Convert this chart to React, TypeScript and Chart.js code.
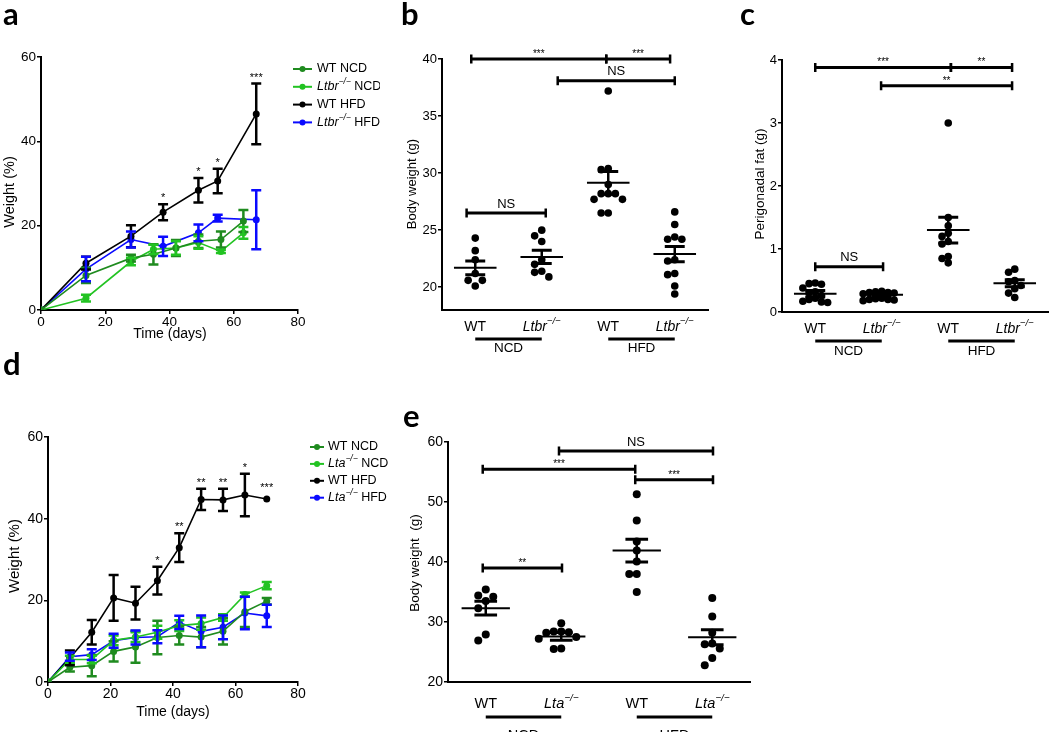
import React, { useEffect, useRef } from 'react';
import { Chart, registerables } from 'chart.js';

Chart.register(...registerables);

const SANS = '"Liberation Sans", Arial, Helvetica, sans-serif';
const LETTER_FONT = 'Lato, "Open Sans", sans-serif';

const DARK_GREEN = '#1f8b1f';
const LIGHT_GREEN = '#22c322';
const BLACK = '#000000';
const BLUE = '#0a0aff';

// ---------------- Panel a (Ltbr, weight gain over time) ----------------
const xTicksA = [0, 20, 40, 60, 80];
const yTicksA = [0, 20, 40, 60];
const daysNcdA = [0, 14, 28, 35, 42, 49, 56, 63];
const daysHfdA = [0, 14, 28, 38, 49, 55, 67];
const wtNcdA = [0, 8.2, 12.3, 13.2, 14.7, 16.3, 16.7, 21.1];
const wtNcdAErr = [0, 1.8, 0.8, 2.4, 1.9, 1.6, 1.9, 2.6];
const ltbrNcdA = [0, 2.8, 11.5, 14.4, 14.7, 16.0, 13.9, 18.3];
const ltbrNcdAErr = [0, 0.8, 0.9, 1.1, 1.6, 1.5, 0.4, 1.4];
const wtHfdA = [0, 11.1, 17.5, 23.2, 28.4, 30.6, 46.5];
const wtHfdAErr = [0, 1.5, 2.6, 1.9, 2.9, 2.9, 7.2];
const ltbrHfdA = [0, 9.7, 16.7, 15.1, 18.3, 21.8, 21.4];
const ltbrHfdAErr = [0, 2.9, 1.9, 2.3, 2.0, 0.8, 7.0];
const starDaysA = [38, 49, 55, 67];
const starTextA = ['*', '*', '*', '***'];

// ---------------- Panel b (Ltbr body weight) ----------------
const yTicksB = [20, 25, 30, 35, 40];
const yMinB = 18;
const wtNcdB = [24.3, 23.2, 22.4, 21.2, 20.6, 20.6, 20.1];
const ltbrNcdB = [25.0, 24.5, 24.0, 22.4, 22.0, 21.4, 21.3, 20.9];
const wtHfdB = [37.2, 30.4, 30.3, 29.0, 28.2, 28.2, 28.2, 27.7, 27.7, 26.5, 26.5];
const ltbrHfdB = [26.6, 25.5, 24.4, 24.2, 24.2, 22.4, 22.3, 21.2, 21.1, 20.1, 19.4];
const meansB = [21.7, 22.65, 29.15, 22.9];
const semsB = [0.6, 0.58, 1.0, 0.66];
const bracketFromB = [0.94, 2.97, 2.24, 0.87];
const bracketToB = [2.97, 3.93, 4.0, 2.06];
const bracketAtB = [40, 40, 38.1, 26.5];
const bracketTextB = ['***', '***', 'NS', 'NS'];

// ---------------- Panel c (Ltbr perigonadal fat) ----------------
const yTicksC = [0, 1, 2, 3, 4];
const wtNcdC = [0.46, 0.45, 0.44, 0.38, 0.32, 0.3, 0.26, 0.22, 0.2, 0.17, 0.16, 0.15];
const ltbrNcdC = [0.33, 0.32, 0.31, 0.31, 0.3, 0.29, 0.22, 0.21, 0.2, 0.2, 0.19, 0.18];
const wtHfdC = [3.0, 1.5, 1.37, 1.25, 1.2, 1.12, 1.08, 0.88, 0.85, 0.78];
const ltbrHfdC = [0.68, 0.63, 0.5, 0.48, 0.42, 0.37, 0.3, 0.23];
const meansC = [0.29, 0.275, 1.3, 0.455];
const semsC = [0.05, 0.02, 0.205, 0.055];
const bracketFromC = [1.0, 3.04, 1.99, 1.0];
const bracketToC = [3.04, 3.96, 3.96, 2.02];
const bracketAtC = [3.88, 3.88, 3.59, 0.72];
const bracketTextC = ['***', '**', '**', 'NS'];

// ---------------- Panel d (Lta, weight gain over time) ----------------
const xTicksD = [0, 20, 40, 60, 80];
const yTicksD = [0, 20, 40, 60];
const daysD = [0, 7, 14, 21, 28, 35, 42, 49, 56, 63, 70];
const wtNcdD = [0, 3.6, 4.0, 7.5, 8.6, 10.9, 11.4, 11.0, 12.4, 17.2, 19.8];
const wtNcdDErr = [0, 1.0, 2.6, 2.5, 3.9, 4.1, 2.2, 2.5, 3.2, 3.7, 0.8];
const ltaNcdD = [0, 5.5, 5.5, 10.2, 11.0, 12.2, 13.8, 14.3, 15.8, 21.4, 23.6];
const ltaNcdDErr = [0, 0.9, 0.9, 1.2, 1.2, 1.6, 1.3, 1.5, 0.8, 0.5, 0.9];
const wtHfdD = [0, 5.9, 12.2, 20.6, 19.3, 24.8, 32.9, 44.7, 44.6, 45.8, 44.8];
const wtHfdDErr = [0, 1.8, 3.0, 5.6, 4.0, 3.4, 3.5, 2.6, 2.7, 5.2, 0];
const ltaHfdD = [0, 6.2, 6.7, 10.1, 10.9, 11.1, 14.6, 12.4, 13.4, 16.9, 16.2];
const ltaHfdDErr = [0, 1.0, 1.3, 1.7, 1.7, 1.6, 1.6, 3.9, 2.9, 4.0, 2.7];
const starDaysD = [35, 42, 49, 56, 63, 70];
const starTextD = ['*', '**', '**', '**', '*', '***'];

// ---------------- Panel e (Lta body weight) ----------------
const yTicksE = [20, 30, 40, 50, 60];
const wtNcdE = [35.4, 34.4, 34.2, 33.5, 32.3, 27.9, 26.9];
const ltaNcdE = [29.8, 28.4, 28.4, 28.3, 28.2, 27.5, 27.2, 25.6, 25.5];
const wtHfdE = [51.3, 46.9, 43.4, 41.9, 40.1, 38.0, 38.0, 35.0];
const ltaHfdE = [34.0, 30.9, 28.2, 26.4, 26.3, 25.6, 24.0, 22.8];
const meansE = [32.3, 27.6, 41.9, 27.45];
const semsE = [1.15, 0.65, 1.9, 1.25];
const bracketFromE = [1.97, 0.96, 2.98, 0.96];
const bracketToE = [4.01, 2.98, 4.01, 2.01];
const bracketAtE = [58.5, 55.45, 53.7, 39.0];
const bracketTextE = ['NS', '***', '***', '**'];

const dietNames = ['NCD', 'HFD'];

// ---------------- helpers ----------------
type Part = { t: string; i?: boolean; sup?: boolean };
type Rect = { left: number; top: number; width: number; height: number };
type Area = { l: number; t: number; r: number; b: number };
type TextSpec = { text: string; x: number; y: number; size: number };

const wt = (suffix = ''): Part[] => [{ t: 'WT' + suffix }];
const ko = (gene: string, suffix = ''): Part[] => {
  const p: Part[] = [{ t: gene, i: true }, { t: '−/−', i: true, sup: true }];
  if (suffix) p.push({ t: suffix });
  return p;
};

function partFont(p: Part, size: number) {
  return `${p.i ? 'italic ' : ''}${p.sup ? size * 0.68 : size}px ${SANS}`;
}

function drawRich(ctx: CanvasRenderingContext2D, parts: Part[], x: number, y: number, size: number, align: 'left' | 'center') {
  let total = 0;
  const widths = parts.map((p) => {
    ctx.font = partFont(p, size);
    const w = ctx.measureText(p.t).width;
    total += w;
    return w;
  });
  let cx = align === 'center' ? x - total / 2 : x;
  ctx.fillStyle = '#000';
  ctx.textAlign = 'left';
  ctx.textBaseline = 'middle';
  parts.forEach((p, k) => {
    ctx.font = partFont(p, size);
    ctx.fillText(p.t, cx, p.sup ? y - size * 0.4 : y);
    cx += widths[k];
  });
}

function drawRotated(ctx: CanvasRenderingContext2D, t: TextSpec, ox: number, oy: number) {
  ctx.save();
  ctx.translate(t.x - ox, t.y - oy);
  ctx.rotate(-Math.PI / 2);
  ctx.font = `${t.size}px ${SANS}`;
  ctx.fillStyle = '#000';
  ctx.textAlign = 'center';
  ctx.textBaseline = 'middle';
  ctx.fillText(t.text, 0, 0);
  ctx.restore();
}

function drawLetter(ctx: CanvasRenderingContext2D, letter: string, pos: [number, number], ox: number, oy: number) {
  ctx.save();
  ctx.font = `bold 31px ${LETTER_FONT}`;
  ctx.fillStyle = '#000';
  ctx.textAlign = 'left';
  ctx.textBaseline = 'alphabetic';
  ctx.fillText(letter, pos[0] - ox, pos[1] - oy);
  ctx.restore();
}

function axisBase(size: number) {
  return {
    ticks: { color: '#000', font: { family: SANS, size }, padding: 1, maxRotation: 0, autoSkip: false },
    grid: { display: true, drawOnChartArea: false, drawTicks: true, tickLength: 4, color: '#000', lineWidth: 1.5 },
    border: { display: true, color: '#000', width: 2 },
  };
}

// beeswarm placement: deterministic horizontal spreading of overlapping dots
function swarm(values: number[], center: number, pxX: number, pxY: number, d: number) {
  const placed: { x: number; y: number }[] = [];
  values.forEach((v) => {
    for (let k = 0; k < 30; k++) {
      const off = k === 0 ? 0 : (k % 2 ? -1 : 1) * Math.ceil(k / 2);
      const x = center + (off * d) / pxX;
      const ok = placed.every((p) => Math.hypot((p.x - x) * pxX, (p.y - v) * pxY) >= d - 0.01);
      if (ok) {
        placed.push({ x, y: v });
        break;
      }
    }
  });
  return placed;
}

// ---------------- line panels ----------------
interface LineSeries { name: Part[]; color: string; x: number[]; y: number[]; err: number[] }
interface LineSpec {
  rect: Rect; area: Area; letter: string; letterPos: [number, number];
  xTicks: number[]; yTicks: number[]; tickSize: number;
  series: LineSeries[]; starSeries: number; starX: number[]; starText: string[];
  legend: { x1: number; x2: number; tx: number; y0: number; gap: number; size: number };
  yTitle: TextSpec; xTitle: TextSpec;
}

function lineConfig(spec: LineSpec): any {
  const { rect, area } = spec;
  const pad = { top: area.t - rect.top, right: rect.left + rect.width - area.r, bottom: 0, left: 0 };
  const yWidth = area.l - rect.left;
  const xHeight = rect.top + rect.height - area.b;
  const ox = rect.left;
  const oy = rect.top;
  const decor = {
    id: 'lineDecor',
    afterDatasetsDraw(chart: any) {
      const ctx = chart.ctx as CanvasRenderingContext2D;
      const xs = chart.scales.x;
      const ys = chart.scales.y;
      ctx.save();
      spec.series.forEach((s) => {
        ctx.strokeStyle = s.color;
        ctx.lineWidth = 2.5;
        s.x.forEach((xv, k) => {
          const e = s.err[k];
          if (!e) return;
          const px = xs.getPixelForValue(xv);
          const top = ys.getPixelForValue(s.y[k] + e);
          const bot = ys.getPixelForValue(s.y[k] - e);
          ctx.beginPath();
          ctx.moveTo(px, top);
          ctx.lineTo(px, bot);
          ctx.moveTo(px - 5, top);
          ctx.lineTo(px + 5, top);
          ctx.moveTo(px - 5, bot);
          ctx.lineTo(px + 5, bot);
          ctx.stroke();
        });
      });
      ctx.restore();
    },
    afterDraw(chart: any) {
      const ctx = chart.ctx as CanvasRenderingContext2D;
      const xs = chart.scales.x;
      const ys = chart.scales.y;
      ctx.save();
      // significance stars
      const ss = spec.series[spec.starSeries];
      ctx.font = `11px ${SANS}`;
      ctx.fillStyle = '#000';
      ctx.textAlign = 'center';
      ctx.textBaseline = 'middle';
      spec.starX.forEach((sx, j) => {
        const k = ss.x.indexOf(sx);
        if (k < 0) return;
        const e = ss.err[k];
        let py = ys.getPixelForValue(ss.y[k] + e) - 6;
        if (!e) py -= 5;
        ctx.fillText(spec.starText[j], xs.getPixelForValue(sx), py);
      });
      // legend
      const L = spec.legend;
      spec.series.forEach((s, k) => {
        const y = L.y0 + k * L.gap - oy;
        ctx.strokeStyle = s.color;
        ctx.lineWidth = 2;
        ctx.beginPath();
        ctx.moveTo(L.x1 - ox, y);
        ctx.lineTo(L.x2 - ox, y);
        ctx.stroke();
        ctx.fillStyle = s.color;
        ctx.beginPath();
        ctx.arc((L.x1 + L.x2) / 2 - ox, y, 3, 0, Math.PI * 2);
        ctx.fill();
        drawRich(ctx, s.name, L.tx - ox, y, L.size, 'left');
      });
      drawRotated(ctx, spec.yTitle, ox, oy);
      ctx.font = `${spec.xTitle.size}px ${SANS}`;
      ctx.fillStyle = '#000';
      ctx.textAlign = 'center';
      ctx.textBaseline = 'middle';
      ctx.fillText(spec.xTitle.text, spec.xTitle.x - ox, spec.xTitle.y - oy);
      drawLetter(ctx, spec.letter, spec.letterPos, ox, oy);
      ctx.restore();
    },
  };
  const xb = axisBase(spec.tickSize);
  const yb = axisBase(spec.tickSize);
  return {
    type: 'line',
    data: {
      datasets: spec.series.map((s) => ({
        data: s.x.map((x, k) => ({ x, y: s.y[k] })),
        borderColor: s.color,
        backgroundColor: s.color,
        pointBackgroundColor: s.color,
        pointBorderWidth: 0,
        pointRadius: 3.5,
        borderWidth: 1.6,
        tension: 0,
        fill: false,
      })),
    },
    options: {
      responsive: false,
      animation: false,
      events: [],
      layout: { autoPadding: false, padding: pad },
      plugins: { legend: { display: false }, tooltip: { enabled: false } },
      scales: {
        x: {
          type: 'linear',
          min: spec.xTicks[0],
          max: spec.xTicks[spec.xTicks.length - 1],
          ...xb,
          ticks: { ...xb.ticks, padding: 0, stepSize: spec.xTicks[1] - spec.xTicks[0] },
          afterFit: (s: any) => { s.height = xHeight; },
        },
        y: {
          type: 'linear',
          min: spec.yTicks[0],
          max: spec.yTicks[spec.yTicks.length - 1],
          ...yb,
          ticks: { ...yb.ticks, stepSize: spec.yTicks[1] - spec.yTicks[0] },
          afterFit: (s: any) => { s.width = yWidth; },
        },
      },
    },
    plugins: [decor],
  };
}

// ---------------- dot (scatter) panels ----------------
interface DotSpec {
  rect: Rect; area: Area; letter: string; letterPos: [number, number];
  yTicks: number[]; yMin: number; tickSize: number;
  groups: number[][]; means: number[]; sems: number[];
  cats: Part[][]; catSize: number; catDy: number; lineDy: number; groupDy: number; groupSize: number;
  bracketFrom: number[]; bracketTo: number[]; bracketAt: number[]; bracketText: string[];
  yTitle: TextSpec; dotR: number; spread: number;
}

function dotConfig(spec: DotSpec): any {
  const { rect, area } = spec;
  const pad = { top: area.t - rect.top, right: rect.left + rect.width - area.r, bottom: 0, left: 0 };
  const yWidth = area.l - rect.left;
  const xHeight = rect.top + rect.height - area.b;
  const ox = rect.left;
  const oy = rect.top;
  const yMax = spec.yTicks[spec.yTicks.length - 1];
  const pxX = (area.r - area.l) / 4;
  const pxY = (area.b - area.t) / (yMax - spec.yMin);
  const decor = {
    id: 'dotDecor',
    afterDatasetsDraw(chart: any) {
      const ctx = chart.ctx as CanvasRenderingContext2D;
      const xs = chart.scales.x;
      const ys = chart.scales.y;
      ctx.save();
      ctx.strokeStyle = '#000';
      spec.means.forEach((m, k) => {
        const c = k + 1;
        const e = spec.sems[k];
        ctx.lineWidth = 2;
        ctx.beginPath();
        ctx.moveTo(xs.getPixelForValue(c - 0.32), ys.getPixelForValue(m));
        ctx.lineTo(xs.getPixelForValue(c + 0.32), ys.getPixelForValue(m));
        ctx.stroke();
        ctx.lineWidth = 2.5;
        ctx.beginPath();
        ctx.moveTo(xs.getPixelForValue(c), ys.getPixelForValue(m + e));
        ctx.lineTo(xs.getPixelForValue(c), ys.getPixelForValue(m - e));
        ctx.stroke();
        ctx.lineWidth = 3;
        ctx.beginPath();
        [m + e, m - e].forEach((v) => {
          ctx.moveTo(xs.getPixelForValue(c - 0.15), ys.getPixelForValue(v));
          ctx.lineTo(xs.getPixelForValue(c + 0.15), ys.getPixelForValue(v));
        });
        ctx.stroke();
      });
      ctx.restore();
    },
    afterDraw(chart: any) {
      const ctx = chart.ctx as CanvasRenderingContext2D;
      const xs = chart.scales.x;
      const ys = chart.scales.y;
      const bottom = chart.chartArea.bottom;
      ctx.save();
      // brackets
      spec.bracketAt.forEach((yv, k) => {
        const x1 = xs.getPixelForValue(spec.bracketFrom[k]);
        const x2 = xs.getPixelForValue(spec.bracketTo[k]);
        const py = ys.getPixelForValue(yv);
        ctx.strokeStyle = '#000';
        ctx.lineWidth = 3;
        ctx.beginPath();
        ctx.moveTo(x1, py);
        ctx.lineTo(x2, py);
        ctx.stroke();
        ctx.lineWidth = 2.5;
        ctx.beginPath();
        ctx.moveTo(x1, py - 4.5);
        ctx.lineTo(x1, py + 4.5);
        ctx.moveTo(x2, py - 4.5);
        ctx.lineTo(x2, py + 4.5);
        ctx.stroke();
        const txt = spec.bracketText[k];
        const isStar = txt.indexOf('*') >= 0;
        ctx.fillStyle = '#000';
        ctx.textAlign = 'center';
        ctx.textBaseline = 'middle';
        ctx.font = `${isStar ? 10 : 13}px ${SANS}`;
        ctx.fillText(txt, (x1 + x2) / 2, py - (isStar ? 5 : 9));
      });
      // category labels
      spec.cats.forEach((parts, k) => {
        drawRich(ctx, parts, xs.getPixelForValue(k + 1), bottom + spec.catDy, spec.catSize, 'center');
      });
      // diet group underline + names
      dietNames.forEach((g, j) => {
        const a = xs.getPixelForValue(2 * j + 1);
        const b = xs.getPixelForValue(2 * j + 2);
        ctx.strokeStyle = '#000';
        ctx.lineWidth = 3;
        ctx.beginPath();
        ctx.moveTo(a, bottom + spec.lineDy);
        ctx.lineTo(b, bottom + spec.lineDy);
        ctx.stroke();
        ctx.font = `${spec.groupSize}px ${SANS}`;
        ctx.fillStyle = '#000';
        ctx.textAlign = 'center';
        ctx.textBaseline = 'middle';
        ctx.fillText(g, (a + b) / 2, bottom + spec.groupDy);
      });
      drawRotated(ctx, spec.yTitle, ox, oy);
      drawLetter(ctx, spec.letter, spec.letterPos, ox, oy);
      ctx.restore();
    },
  };
  const yb = axisBase(spec.tickSize);
  return {
    type: 'scatter',
    data: {
      datasets: spec.groups.map((vals, k) => ({
        data: swarm(vals, k + 1, pxX, pxY, spec.spread),
        backgroundColor: '#000',
        borderColor: '#000',
        pointRadius: spec.dotR,
        pointBorderWidth: 0,
      })),
    },
    options: {
      responsive: false,
      animation: false,
      events: [],
      layout: { autoPadding: false, padding: pad },
      plugins: { legend: { display: false }, tooltip: { enabled: false } },
      scales: {
        x: {
          type: 'linear',
          min: 0.5,
          max: 4.5,
          ticks: { display: false },
          grid: { display: false },
          border: { display: true, color: '#000', width: 2 },
          afterFit: (s: any) => { s.height = xHeight; },
        },
        y: {
          type: 'linear',
          min: spec.yMin,
          max: yMax,
          ...yb,
          ticks: { ...yb.ticks, stepSize: spec.yTicks[1] - spec.yTicks[0], includeBounds: false },
          afterFit: (s: any) => { s.width = yWidth; },
        },
      },
    },
    plugins: [decor],
  };
}

// ---------------- panel specs (layout only) ----------------
const specA: LineSpec = {
  rect: { left: 0, top: 0, width: 380, height: 345 },
  area: { l: 41, t: 57, r: 298, b: 310 },
  letter: 'a', letterPos: [3, 25],
  xTicks: xTicksA, yTicks: yTicksA, tickSize: 13.5,
  series: [
    { name: wt(' NCD'), color: DARK_GREEN, x: daysNcdA, y: wtNcdA, err: wtNcdAErr },
    { name: ko('Ltbr', ' NCD'), color: LIGHT_GREEN, x: daysNcdA, y: ltbrNcdA, err: ltbrNcdAErr },
    { name: wt(' HFD'), color: BLACK, x: daysHfdA, y: wtHfdA, err: wtHfdAErr },
    { name: ko('Ltbr', ' HFD'), color: BLUE, x: daysHfdA, y: ltbrHfdA, err: ltbrHfdAErr },
  ],
  starSeries: 2, starX: starDaysA, starText: starTextA,
  legend: { x1: 293, x2: 312, tx: 317, y0: 69, gap: 17.8, size: 12.5 },
  yTitle: { text: 'Weight (%)', x: 10, y: 192, size: 14.5 },
  xTitle: { text: 'Time (days)', x: 170, y: 334, size: 14 },
};

const specB: DotSpec = {
  rect: { left: 380, top: 0, width: 335, height: 360 },
  area: { l: 442, t: 59, r: 708, b: 310 },
  letter: 'b', letterPos: [401, 25],
  yTicks: yTicksB, yMin: yMinB, tickSize: 13,
  groups: [wtNcdB, ltbrNcdB, wtHfdB, ltbrHfdB], means: meansB, sems: semsB,
  cats: [wt(), ko('Ltbr'), wt(), ko('Ltbr')], catSize: 14, catDy: 17, lineDy: 29, groupDy: 38, groupSize: 13.5,
  bracketFrom: bracketFromB, bracketTo: bracketToB, bracketAt: bracketAtB, bracketText: bracketTextB,
  yTitle: { text: 'Body weight (g)', x: 412, y: 184, size: 13 },
  dotR: 3.8, spread: 7.1,
};

const specC: DotSpec = {
  rect: { left: 715, top: 0, width: 335, height: 360 },
  area: { l: 782, t: 60, r: 1048, b: 312 },
  letter: 'c', letterPos: [740, 25],
  yTicks: yTicksC, yMin: 0, tickSize: 13,
  groups: [wtNcdC, ltbrNcdC, wtHfdC, ltbrHfdC], means: meansC, sems: semsC,
  cats: [wt(), ko('Ltbr'), wt(), ko('Ltbr')], catSize: 14, catDy: 17, lineDy: 29, groupDy: 39, groupSize: 13.5,
  bracketFrom: bracketFromC, bracketTo: bracketToC, bracketAt: bracketAtC, bracketText: bracketTextC,
  yTitle: { text: 'Perigonadal fat (g)', x: 760, y: 184, size: 13.5 },
  dotR: 3.8, spread: 6.2,
};

const specD: LineSpec = {
  rect: { left: 0, top: 350, width: 400, height: 382 },
  area: { l: 48, t: 437, r: 298, b: 682 },
  letter: 'd', letterPos: [3, 375],
  xTicks: xTicksD, yTicks: yTicksD, tickSize: 14,
  series: [
    { name: wt(' NCD'), color: DARK_GREEN, x: daysD, y: wtNcdD, err: wtNcdDErr },
    { name: ko('Lta', ' NCD'), color: LIGHT_GREEN, x: daysD, y: ltaNcdD, err: ltaNcdDErr },
    { name: wt(' HFD'), color: BLACK, x: daysD, y: wtHfdD, err: wtHfdDErr },
    { name: ko('Lta', ' HFD'), color: BLUE, x: daysD, y: ltaHfdD, err: ltaHfdDErr },
  ],
  starSeries: 2, starX: starDaysD, starText: starTextD,
  legend: { x1: 310, x2: 324, tx: 328, y0: 447, gap: 16.9, size: 12.5 },
  yTitle: { text: 'Weight (%)', x: 15, y: 556, size: 15 },
  xTitle: { text: 'Time (days)', x: 173, y: 712, size: 14 },
};

const specE: DotSpec = {
  rect: { left: 400, top: 350, width: 360, height: 382 },
  area: { l: 448, t: 442, r: 750, b: 682 },
  letter: 'e', letterPos: [403, 427],
  yTicks: yTicksE, yMin: 20, tickSize: 14,
  groups: [wtNcdE, ltaNcdE, wtHfdE, ltaHfdE], means: meansE, sems: semsE,
  cats: [wt(), ko('Lta'), wt(), ko('Lta')], catSize: 14.5, catDy: 22, lineDy: 35, groupDy: 54, groupSize: 14.5,
  bracketFrom: bracketFromE, bracketTo: bracketToE, bracketAt: bracketAtE, bracketText: bracketTextE,
  yTitle: { text: 'Body weight  (g)', x: 415, y: 563, size: 13.5 },
  dotR: 4, spread: 7.5,
};

function ChartCanvas({ rect, make }: { rect: Rect; make: () => any }) {
  const ref = useRef<HTMLCanvasElement | null>(null);
  useEffect(() => {
    if (!ref.current) return;
    const chart = new Chart(ref.current, make());
    return () => chart.destroy();
  }, []);
  return (
    <canvas
      ref={ref}
      width={rect.width}
      height={rect.height}
      style={{ position: 'absolute', left: rect.left, top: rect.top, width: rect.width, height: rect.height }}
    />
  );
}

export default function App() {
  return (
    <div style={{ position: 'absolute', left: 0, top: 0, width: 1050, height: 732, background: '#fff', overflow: 'hidden' }}>
      <ChartCanvas rect={specA.rect} make={() => lineConfig(specA)} />
      <ChartCanvas rect={specB.rect} make={() => dotConfig(specB)} />
      <ChartCanvas rect={specC.rect} make={() => dotConfig(specC)} />
      <ChartCanvas rect={specD.rect} make={() => lineConfig(specD)} />
      <ChartCanvas rect={specE.rect} make={() => dotConfig(specE)} />
    </div>
  );
}
